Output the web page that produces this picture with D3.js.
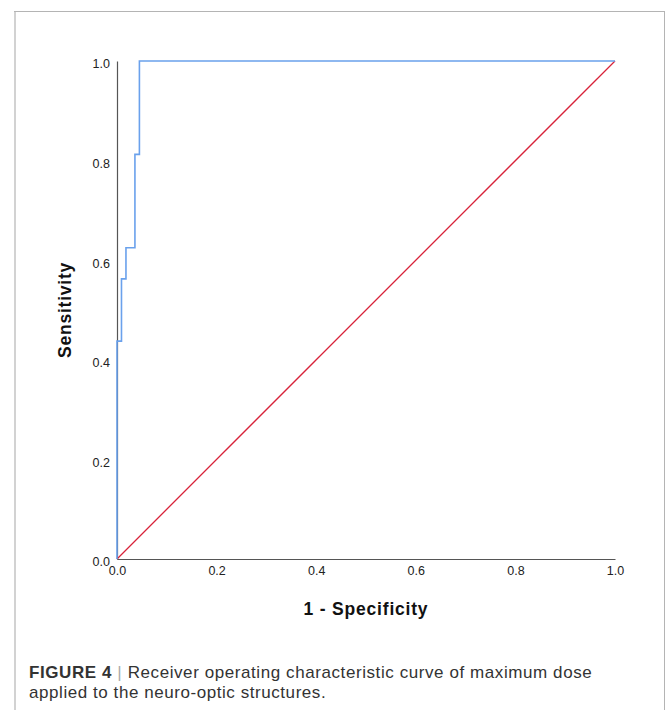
<!DOCTYPE html>
<html><head><meta charset="utf-8">
<script src="https://cdn.jsdelivr.net/npm/d3@7"></script>
<style>
html,body{margin:0;padding:0;background:#fff;}
svg{display:block;}
</style></head>
<body>
<svg id="chart" width="665" height="710"></svg>
<script>
// ROC curve points (1 - specificity, sensitivity)
const rocFpr = [0, 0, 0.009, 0.009, 0.018, 0.018, 0.036, 0.036, 0.045, 0.045, 1.0];
const rocTpr = [0, 0.4375, 0.4375, 0.5625, 0.5625, 0.625, 0.625, 0.8125, 0.8125, 1.0, 1.0];
// Reference (chance) line
const refFpr = [0, 1];
const refTpr = [0, 1];
const tickValues = [0, 0.2, 0.4, 0.6, 0.8, 1.0];
const xTitle = "1 - Specificity";
const yTitle = "Sensitivity";
const captionBold = "FIGURE 4";
const captionLine1 = "Receiver operating characteristic curve of maximum dose";
const captionLine2 = "applied to the neuro-optic structures.";

const svg = d3.select("#chart");
const font = "'Liberation Sans', Arial, Helvetica, sans-serif";

// frame
svg.append("line").attr("x1",15).attr("x2",15).attr("y1",11).attr("y2",710)
  .attr("stroke","#d2d2d2").attr("stroke-width",2);
svg.append("line").attr("x1",14).attr("x2",664.5).attr("y1",11.5).attr("y2",11.5)
  .attr("stroke","#b4b4b4").attr("stroke-width",1);
svg.append("line").attr("x1",664.5).attr("x2",664.5).attr("y1",11).attr("y2",710)
  .attr("stroke","#b4b4b4").attr("stroke-width",1);

const x = d3.scaleLinear().domain([0,1]).range([117,615]);
const y = d3.scaleLinear().domain([0,1]).range([559,61]);

// axes
const xAxis = d3.axisBottom(x).tickValues(tickValues).tickFormat(d3.format(".1f")).tickSize(0).tickPadding(7);
const yAxis = d3.axisLeft(y).tickValues(tickValues).tickFormat(d3.format(".1f")).tickSize(0).tickPadding(7);

const gx = svg.append("g").attr("transform",`translate(0,${y(0)})`).call(xAxis);
const gy = svg.append("g").attr("transform",`translate(${x(0)},0)`).call(yAxis);
[gx, gy].forEach(g => {
  g.select(".domain").attr("stroke","#555").attr("stroke-width",1.2);
  g.selectAll("text").attr("font-family",font).attr("font-size",12.5).attr("fill","#222");
});
gy.selectAll("text").attr("dy","0.55em");
gx.selectAll("text").attr("dy","0.71em");

const line = d3.line().x(d=>x(d[0])).y(d=>y(d[1]));

svg.append("path").datum(refFpr.map((v,i)=>[v, refTpr[i]]))
  .attr("d", line).attr("fill","none").attr("stroke","#d8233a").attr("stroke-width",1.3);
svg.append("path").datum(rocFpr.map((v,i)=>[v, rocTpr[i]]))
  .attr("d", line).attr("fill","none").attr("stroke","#6aa1ec").attr("stroke-width",1.6);

// axis titles
svg.append("text").attr("x",(x(0)+x(1))/2).attr("y",614.5)
  .attr("text-anchor","middle").attr("font-family",font).attr("font-weight","bold")
  .attr("font-size",17.5).attr("letter-spacing",0.8).attr("fill","#111").text(xTitle);
svg.append("text").attr("transform",`translate(70.5,${(y(0)+y(1))/2}) rotate(-90)`)
  .attr("text-anchor","middle").attr("font-family",font).attr("font-weight","bold")
  .attr("font-size",17.5).attr("letter-spacing",0.77).attr("fill","#111").text(yTitle);

// caption
const cap = svg.append("text").attr("x",29).attr("y",677.5).attr("font-family",font)
  .attr("font-size",17).attr("letter-spacing",0.58).attr("fill","#333");
cap.append("tspan").attr("font-weight","bold").text(captionBold);
cap.append("tspan").attr("fill","#aaa").text(" | ");
cap.append("tspan").text(captionLine1);
svg.append("text").attr("x",29).attr("y",698).attr("font-family",font)
  .attr("font-size",17).attr("letter-spacing",0.56).attr("fill","#333").text(captionLine2);
</script>
</body></html>
